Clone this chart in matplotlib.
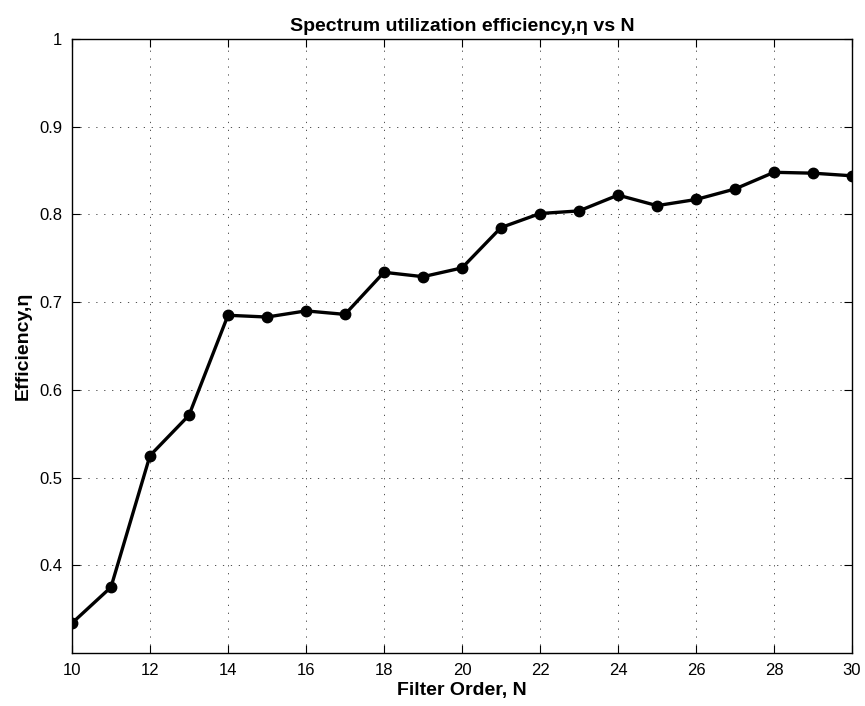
import matplotlib
matplotlib.use("Agg")
import matplotlib.pyplot as plt

plt.rcParams['font.family'] = ['Liberation Sans', 'DejaVu Sans']
plt.rcParams['font.size'] = 11

# Filter order vs spectrum utilization efficiency
filter_order = [10, 11, 12, 13, 14, 15, 16, 17, 18, 19, 20,
                21, 22, 23, 24, 25, 26, 27, 28, 29, 30]
efficiency = [0.334, 0.375, 0.525, 0.571, 0.685, 0.683, 0.690, 0.686,
              0.734, 0.729, 0.739, 0.785, 0.801, 0.804, 0.822, 0.810,
              0.817, 0.829, 0.848, 0.847, 0.844]

x_ticks = list(range(10, 31, 2))
y_ticks = [0.4, 0.5, 0.6, 0.7, 0.8, 0.9, 1.0]
y_labels = ['0.4', '0.5', '0.6', '0.7', '0.8', '0.9', '1']

fig = plt.figure(figsize=(8.65, 7.06), dpi=100)
ax = fig.add_axes([0.0832, 0.0751, 0.9018, 0.8697])

ax.plot(filter_order, efficiency, color='black', linewidth=2.4,
        marker='o', markersize=7.5, markerfacecolor='black', zorder=3)

ax.set_xlim(10, 30)
ax.set_ylim(0.3, 1.0)
ax.set_xticks(x_ticks)
ax.set_yticks(y_ticks)
ax.set_yticklabels(y_labels)

# matlab style: ticks inside on all four sides, dotted grid
ax.tick_params(direction='in', top=True, right=True, length=5.8, width=0.8,
               labelsize=12, pad=7)
ax.grid(True, linestyle=(0, (1.5, 8)), color='black', linewidth=0.6, alpha=0.8)
for s in ax.spines.values():
    s.set_linewidth(1.0)

ax.set_xlabel('Filter Order, N', fontsize=14, fontweight='bold', labelpad=3)
ax.set_ylabel('Efficiency,\u03b7', fontsize=14, fontweight='bold', labelpad=5)
ax.set_title('Spectrum utilization efficiency,\u03b7 vs N', fontsize=14,
             fontweight='bold', pad=6)

fig.savefig('out.png', dpi=100)
